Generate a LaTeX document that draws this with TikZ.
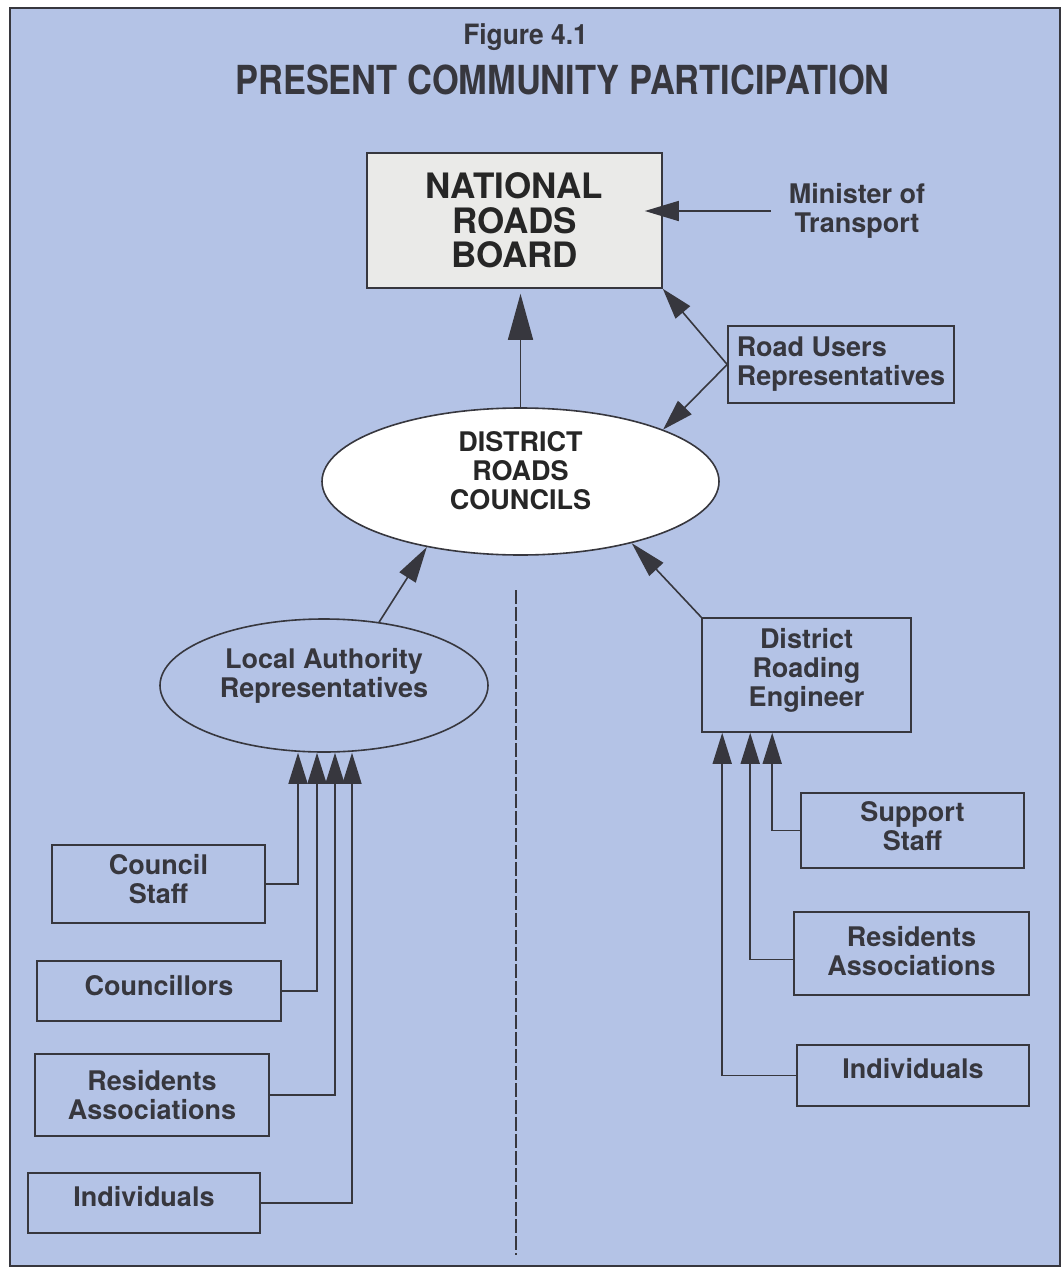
\documentclass[tikz,border=0pt]{standalone}
\usepackage{fontspec}
\setmainfont{TeX Gyre Heros}
\usepackage{graphicx}
\usepackage{tikz}
\usetikzlibrary{arrows.meta}
\usetikzlibrary{positioning,shapes.geometric}
\definecolor{panel}{RGB}{180,195,230}
\definecolor{ink}{RGB}{55,55,62}
\definecolor{boardfill}{RGB}{234,234,232}
\tikzset{
    box/.style={
        draw=ink,
        line width=1.6pt,
        rectangle,
        align=center,
        text=ink,
        inner sep=2pt,
        font=\fontsize{27}{29}\selectfont\bfseries
    },
    oval/.style={
        draw=ink,
        line width=1.6pt,
        ellipse,
        align=center,
        text=ink,
        inner sep=0pt,
        font=\fontsize{27}{29}\selectfont\bfseries
    },
    link/.style={
        draw=ink,
        line width=1.6pt,
        -{Triangle[length=31pt, width=19pt]}
    }
}

\begin{document}
\begin{tikzpicture}[x=1pt, y=-1pt]
    \useasboundingbox (0,0) rectangle (1063,1271);
    % Panel
    \fill[white] (0,0) rectangle (1063,1271);
    \draw[ink, line width=1.5pt, fill=panel] (10,8) rectangle (1060,1266);

    % Headings
    \node[anchor=base, text=ink, font=\fontsize{28}{30}\selectfont\bfseries] (fig) at (525.5,45) {\scalebox{0.94}[1]{Figure 4.1}};
    \node[anchor=base, text=ink, font=\fontsize{40}{42}\selectfont\bfseries] (title) at (562.5,95) {\scalebox{0.86}[1]{PRESENT COMMUNITY PARTICIPATION}};

    % Upper level
    \node[box, fill=boardfill, minimum width=295pt, minimum height=135pt, font=\fontsize{35}{34.5}\selectfont\bfseries, text=black!85] (nrb) at (514.5,220.5) {NATIONAL\\ROADS\\BOARD};
    \node[text=ink, align=center, font=\fontsize{27}{29}\selectfont\bfseries, inner sep=0pt] (minister) at (857,211) {Minister of\\Transport};
    \node[box, align=left, minimum width=226pt, minimum height=77pt] (rur) at (841,364.5) {Road Users\\Representatives};
    \node[oval, fill=white, text=black!85, minimum width=397pt, minimum height=147pt, text depth=22pt] (drc) at (520.5,481.5) {DISTRICT\\ROADS\\COUNCILS};

    % Middle level
    \node[oval, minimum width=328pt, minimum height=133pt, text depth=26pt] (lar) at (324,685.5) {Local Authority\\Representatives};
    \node[box, minimum width=209pt, minimum height=114pt, text depth=16pt] (dre) at (806.5,675) {District\\Roading\\Engineer};

    % Left column
    \node[box, minimum width=213pt, minimum height=78pt, text depth=10pt] (cstaff) at (158.5,884) {Council\\Staff};
    \node[box, minimum width=244pt, minimum height=60pt, text depth=12pt] (councillors) at (159,991) {Councillors};
    \node[box, minimum width=234pt, minimum height=82pt] (resl) at (152,1095) {Residents\\Associations};
    \node[box, minimum width=232pt, minimum height=60pt, text depth=14pt] (indl) at (144,1203) {Individuals};

    % Right column
    \node[box, minimum width=223pt, minimum height=75pt, text depth=10pt] (support) at (912.5,830.5) {Support\\Staff};
    \node[box, minimum width=235pt, minimum height=83pt, text depth=6pt] (resr) at (911.5,953.5) {Residents\\Associations};
    \node[box, minimum width=232pt, minimum height=61pt, text depth=14pt] (indr) at (913,1075.5) {Individuals};

    % Links to the board
    \draw[link, -{Triangle[length=46pt, width=25pt]}, shorten >=5pt] (drc.north) -- (drc.north |- nrb.south);
    \draw[link, -{Triangle[length=34pt, width=20pt]}] ([xshift=-18pt]minister.west) -- ([xshift=-18pt]minister.west -| nrb.east);
    \draw[link] (rur.west) -- (nrb.south east);
    \draw[link] (rur.west) -- (drc.20);

    % Links to the councils
    \draw[link, -{Triangle[length=36pt, width=19pt]}] (lar.49) -- (drc.-145);
    \draw[link, -{Triangle[length=36pt, width=19pt]}] (dre.north west) -- (drc.-29);

    % Local authority inputs
    \draw[link] (cstaff.east) -| ([xshift=-26pt]lar.south);
    \draw[link] (councillors.east) -| ([xshift=-7pt]lar.south);
    \draw[link] (resl.east) -| ([xshift=11pt]lar.south);
    \draw[link] (indl.east) -| ([xshift=28pt]lar.south);

    % Engineer inputs
    \draw[link] (support.west) -| ([xshift=71pt]dre.south west);
    \draw[link] ([yshift=-6pt]resr.west) -| ([xshift=49pt]dre.south west);
    \draw[link] (indr.west) -| ([xshift=21pt]dre.south west);

    % Divider
    \coordinate (divtop) at (516,590);
    \coordinate (divbot) at (516,1255);
    \draw[ink, line width=1.8pt, dash pattern=on 14pt off 3pt] (divtop) -- (divbot);
\end{tikzpicture}
\end{document}
